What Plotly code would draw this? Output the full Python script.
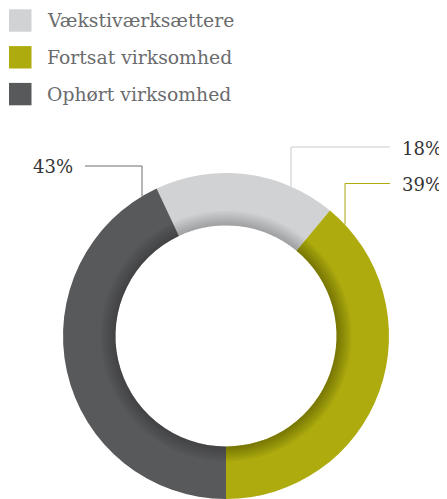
import math
import plotly.graph_objects as go

# ---- data ----
categories = ["Vækstiværksættere", "Fortsat virksomhed", "Ophørt virksomhed"]
values = [18, 39, 43]
pct_labels = ["18%", "39%", "43%"]
colors = ["#D1D2D4", "#ADAB0E", "#58595B"]
line_colors = ["#C9CACC", "#ADAB0E", "#6D6E70"]

# ---- layout geometry (page pixels; the page body has an 8px margin) ----
PAGE_W, PAGE_H, OFF = 447, 499, 8
W, H = PAGE_W - OFF, PAGE_H - OFF
CX, CY, R, RIN = 226, 336, 163, 110.5
FONT = "DejaVu Serif"


def fx(x):
    return (x - OFF) / W


def fy(y):
    return 1 - (y - OFF) / H


total = sum(values)
rotation = 180 - 360 * (values[0] + values[1]) / total

fig = go.Figure()

# main donut
fig.add_trace(go.Pie(
    labels=categories, values=values, sort=False, direction="clockwise",
    rotation=rotation, hole=RIN / R,
    marker=dict(colors=colors, line=dict(width=0)),
    textinfo="none", hoverinfo="label+percent", showlegend=False,
    domain=dict(x=[fx(CX - R), fx(CX + R)], y=[max(0, fy(CY + R)), fy(CY - R)]),
))

# soft inner shadow: thin overlay rings near the hole
shade_alpha = [0.022, 0.03, 0.022]
for k in range(1, 11):
    ro = RIN + 1.5 * k
    fig.add_trace(go.Pie(
        labels=categories, values=values, sort=False, direction="clockwise",
        rotation=rotation, hole=RIN / ro,
        marker=dict(colors=[f"rgba(0,0,0,{a})" for a in shade_alpha], line=dict(width=0)),
        textinfo="none", hoverinfo="skip", showlegend=False,
        domain=dict(x=[fx(CX - ro), fx(CX + ro)], y=[fy(CY + ro), fy(CY - ro)]),
    ))

shapes = []
annotations = []

# legend (manual, large squares)
leg_y = [20.5, 57.3, 94.1]
for cat, col, yc in zip(categories, colors, leg_y):
    shapes.append(dict(type="rect", xref="paper", yref="paper",
                       x0=fx(9), x1=fx(31.5), y0=fy(yc - 11.2), y1=fy(yc + 11.2),
                       fillcolor=col, line=dict(width=0)))
    annotations.append(dict(text=cat, xref="paper", yref="paper",
                            x=fx(45), y=fy(yc + 0.5), xanchor="left", yanchor="middle",
                            showarrow=False, font=dict(family=FONT, size=18.8, color="#6A6B6D")))

# leader lines + percentage labels
attach_x = [291, 345, 142]
level_y = [147, 183.5, 166]
end_x = [390, 390, 85]
for lab, ax, ly, ex, lc in zip(pct_labels, attach_x, level_y, end_x, line_colors):
    ay = CY - math.sqrt(R ** 2 - (ax - CX) ** 2)
    shapes.append(dict(type="path", xref="paper", yref="paper",
                       path=f"M {fx(ax)},{fy(ay)} L {fx(ax)},{fy(ly)} L {fx(ex)},{fy(ly)}",
                       line=dict(color=lc, width=1)))
    right = ex > ax
    annotations.append(dict(text=lab, xref="paper", yref="paper",
                            x=fx(ex + 10) if right else fx(ex - 10), y=fy(ly + 1),
                            xanchor="left" if right else "right", yanchor="middle",
                            showarrow=False, font=dict(family=FONT, size=18, color="#333333")))

fig.update_layout(
    width=W, height=H,
    margin=dict(l=0, r=0, t=0, b=0),
    paper_bgcolor="white", plot_bgcolor="white",
    shapes=shapes, annotations=annotations,
    font=dict(family=FONT),
)

fig.write_html("out.html")
